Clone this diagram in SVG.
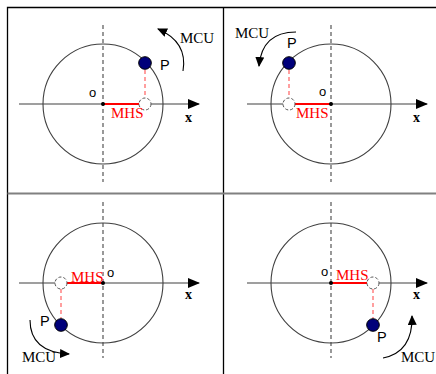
<svg xmlns="http://www.w3.org/2000/svg" width="436" height="374" viewBox="0 0 436 374">
<defs>
<marker id="ax" markerWidth="12" markerHeight="10" refX="11" refY="5" orient="auto" markerUnits="userSpaceOnUse"><path d="M0,0 L12,5 L0,10 Z" fill="#000"/></marker>
<marker id="arc" markerWidth="10" markerHeight="9" refX="9" refY="4.5" orient="auto" markerUnits="userSpaceOnUse"><path d="M0,0 L10,4.5 L0,9 Z" fill="#000"/></marker>
</defs>
<style>
.frame{stroke:#000;stroke-width:1.3;fill:none}
.div{stroke:#808080;stroke-width:2;fill:none}
.circ{fill:none;stroke:#404040;stroke-width:1.1}
.axis{stroke:#404040;stroke-width:1.2;fill:none}
.vdash{stroke:#555;stroke-width:1.2;stroke-dasharray:4,3;fill:none}
.rdash{stroke:#ff6060;stroke-width:1.2;stroke-dasharray:4,3;fill:none}
.rline{stroke:#ff0000;stroke-width:2.2}
.p{fill:#00007a;stroke:#000;stroke-width:1}
.h{fill:#fff;stroke:#555;stroke-width:1;stroke-dasharray:3,2}
.arc{fill:none;stroke:#000;stroke-width:1.1}
.dot{fill:#000}
.o{font-family:"Liberation Sans",Arial,sans-serif;font-size:13px;fill:#000}
.P{font-family:"Liberation Sans",Arial,sans-serif;font-size:14.5px;fill:#000}
.mhs{font-family:"Liberation Serif","Times New Roman",serif;font-size:15px;fill:#ff0000}
.mcu{font-family:"Liberation Serif","Times New Roman",serif;font-size:15px;fill:#000}
.x{font-family:"Liberation Serif","Times New Roman",serif;font-size:14px;font-weight:bold;fill:#000}
</style>
<rect width="436" height="374" fill="#fff"/>
<g id="table">
<path class="frame" d="M7.5,374 V7.5 H436"/>
<path class="frame" d="M223.5,7.5 V374"/>
<path class="div" d="M7.5,193.5 H436"/>
</g>
<g id="connectors">
<path class="axis" d="M19,104 H199" marker-end="url(#ax)"/>
<path class="axis" d="M247,104 H427" marker-end="url(#ax)"/>
<path class="axis" d="M19,283 H199" marker-end="url(#ax)"/>
<path class="axis" d="M247,283 H427" marker-end="url(#ax)"/>
<path class="vdash" d="M103,25 V182"/>
<path class="vdash" d="M331,25 V182"/>
<path class="vdash" d="M103,202 V358"/>
<path class="vdash" d="M331,202 V358"/>
<path class="arc" d="M183,71 Q188,42 158,29" marker-end="url(#arc)"/>
<path class="arc" d="M296,32 Q262,32 259,66" marker-end="url(#arc)"/>
<path class="arc" d="M30,320 Q30,352 69,354" marker-end="url(#arc)"/>
<path class="arc" d="M383,358 Q413,352 412,316" marker-end="url(#arc)"/>
</g>
<g id="q1">
<circle class="circ" cx="103" cy="104" r="60"/>
<path class="rdash" d="M145,70 V98"/>
<path class="rline" d="M103,104 H139"/>
<circle class="dot" cx="103" cy="104" r="2"/>
<circle class="h" cx="145" cy="104" r="6"/>
<circle class="p" cx="145" cy="63" r="6.3"/>
<text class="o" x="89" y="97">o</text>
<text class="mhs" x="111" y="118">MHS</text>
<text class="x" x="185" y="122">x</text>
<text class="P" x="160" y="70">P</text>
<text class="mcu" x="180" y="43">MCU</text>
</g>
<g id="q2">
<circle class="circ" cx="331" cy="104" r="60"/>
<path class="rdash" d="M289,70 V98"/>
<path class="rline" d="M295,104 H331"/>
<circle class="dot" cx="331" cy="104" r="2"/>
<circle class="h" cx="289" cy="104" r="6"/>
<circle class="p" cx="289" cy="63" r="6.3"/>
<text class="o" x="319" y="96">o</text>
<text class="mhs" x="296" y="118">MHS</text>
<text class="x" x="413" y="122">x</text>
<text class="P" x="287" y="48">P</text>
<text class="mcu" x="235" y="38">MCU</text>
</g>
<g id="q3">
<circle class="circ" cx="103" cy="283" r="60"/>
<path class="rdash" d="M61,289 V318"/>
<path class="rline" d="M67,283 H103"/>
<circle class="dot" cx="103" cy="283" r="2"/>
<circle class="h" cx="61" cy="283" r="6"/>
<circle class="p" cx="61" cy="325" r="6.3"/>
<text class="o" x="107" y="277">o</text>
<text class="mhs" x="71" y="282">MHS</text>
<text class="x" x="185" y="299">x</text>
<text class="P" x="40" y="326">P</text>
<text class="mcu" x="22" y="362">MCU</text>
</g>
<g id="q4">
<circle class="circ" cx="331" cy="283" r="60"/>
<path class="rdash" d="M373,289 V318"/>
<path class="rline" d="M331,283 H367"/>
<circle class="dot" cx="331" cy="283" r="2"/>
<circle class="h" cx="373" cy="283" r="6"/>
<circle class="p" cx="373" cy="325" r="6.3"/>
<text class="o" x="321" y="276">o</text>
<text class="mhs" x="336" y="280">MHS</text>
<text class="x" x="413" y="299">x</text>
<text class="P" x="377" y="342">P</text>
<text class="mcu" x="401" y="362">MCU</text>
</g>
</svg>
